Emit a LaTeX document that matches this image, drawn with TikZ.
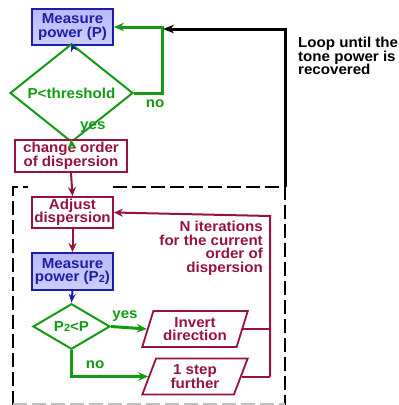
\documentclass[tikz,border=0pt]{standalone}
\usepackage{fontspec}
\setmainfont{Liberation Sans}[FakeStretch=1.05]
\usetikzlibrary{shapes.geometric,arrows.meta}
\definecolor{bblue}{RGB}{30,30,165}
\definecolor{bfill}{RGB}{205,205,255}
\definecolor{bfilltop}{RGB}{185,185,250}
\definecolor{ggreen}{RGB}{20,155,20}
\definecolor{rred}{RGB}{150,20,60}
\newcommand{\subtwo}{\raisebox{-0.5pt}{\fontsize{10.5}{10.5}\selectfont 2}}
\begin{document}
\begin{tikzpicture}[x=1pt,y=-1pt,
  every node/.style={font=\fontsize{14.4}{13.5}\selectfont\bfseries, align=center, inner sep=0pt},
  bluebox/.style={draw=bblue, line width=1.9pt, top color=bfilltop, bottom color=bfill, text=bblue, minimum width=81pt},
  redbox/.style={draw=rred, line width=1.8pt, fill=white, text=rred},
  gdiam/.style={diamond, draw=ggreen, line width=2pt, text=ggreen, fill=white},
  para/.style={trapezium, trapezium left angle=70, trapezium right angle=110, trapezium stretches=true, draw=rred, line width=1.8pt, text=rred, fill=white, minimum width=106pt, minimum height=36pt},
  barr/.style={-{Stealth[length=9pt,width=7pt]}, bblue, line width=2pt},
  garr/.style={-{Stealth[length=10pt,width=8.5pt]}, ggreen, line width=3pt},
  rarr/.style={-{Stealth[length=9pt,width=8pt]}, rred, line width=2pt},
  rline/.style={rred, line width=2pt},
  karr/.style={-{Stealth[length=11pt,width=8.5pt]}, black, line width=3pt},
  dbox/.style={black, line width=1.7pt, dash pattern=on 14pt off 5pt}
]
\useasboundingbox (0,0) rectangle (399,405);

% dashed frame
\draw[dbox] (13,405) -- (13,187) -- (28,187);
\draw[dbox] (113,187) -- (285,187) -- (285,405);
\draw[dbox, black!25] (13,404) -- (285,404);

% nodes
\node[bluebox, minimum height=36pt] (m1) at (72.5,27) {Measure\\power (P)};
\node[gdiam, minimum width=123pt, minimum height=51pt] (d1) at (71.5,93) {P<threshold};
\node[redbox, minimum width=112pt, minimum height=32pt] (c1) at (71,156) {change order\\of dispersion};
\node[redbox, minimum width=81pt, minimum height=31pt] (a1) at (72.5,212.5) {Adjust\\dispersion};
\node[bluebox, minimum height=37pt] (m2) at (72.5,271.5) {Measure\\power (P\subtwo)};
\node[gdiam, minimum width=77pt, minimum height=31pt] (d2) at (71.5,326.5) {P\subtwo<P};
\node[para] (inv) at (195,329) {Invert\\direction};
\node[para] (stp) at (195,376.5) {1 step\\further};

\coordinate (kc) at (285,187);
\coordinate (kt) at (285,29);
\coordinate (kh) at (163,29);
\coordinate (nr) at (162,93);
\coordinate (rx) at (270,216);

% connectors
\draw[barr] (m1.south) -- (d1.north);
\draw[garr] (d1.east) -- (nr) |- (m1.east);
\draw[karr] (kc) -- (kt) -- (kh);
\draw[garr] (d1.south) -- (c1.north);
\draw[rarr] (c1.south) -- (a1.north);
\draw[rarr] (a1.south) -- (m2.north);
\draw[barr] (m2.south) -- (d2.north);
\draw[garr] (d2.east) -- (inv.west);
\draw[garr] (d2.south) |- (stp.west);
\draw[rline] (inv.east) -- (inv.east -| rx);
\draw[rline] (stp.east) -- (stp.east -| rx);
\draw[rarr] (stp.east -| rx) -- (rx) -- (a1.east);

% labels
\node[text=ggreen] (lno1) at (155,104) {no};
\node[text=ggreen, anchor=west] (lyes1) at (80,127) {yes};
\node[text=ggreen] (lyes2) at (125,316) {yes};
\node[text=ggreen] (lno2) at (95,365) {no};
\node[text=rred, align=right, anchor=north east] (liter) at (263,221) {N iterations\\for the current\\order of\\dispersion};
\node[text=black, align=left, anchor=north west] (lloop) at (298,37) {Loop until the\\tone power is\\recovered};
\end{tikzpicture}
\end{document}
